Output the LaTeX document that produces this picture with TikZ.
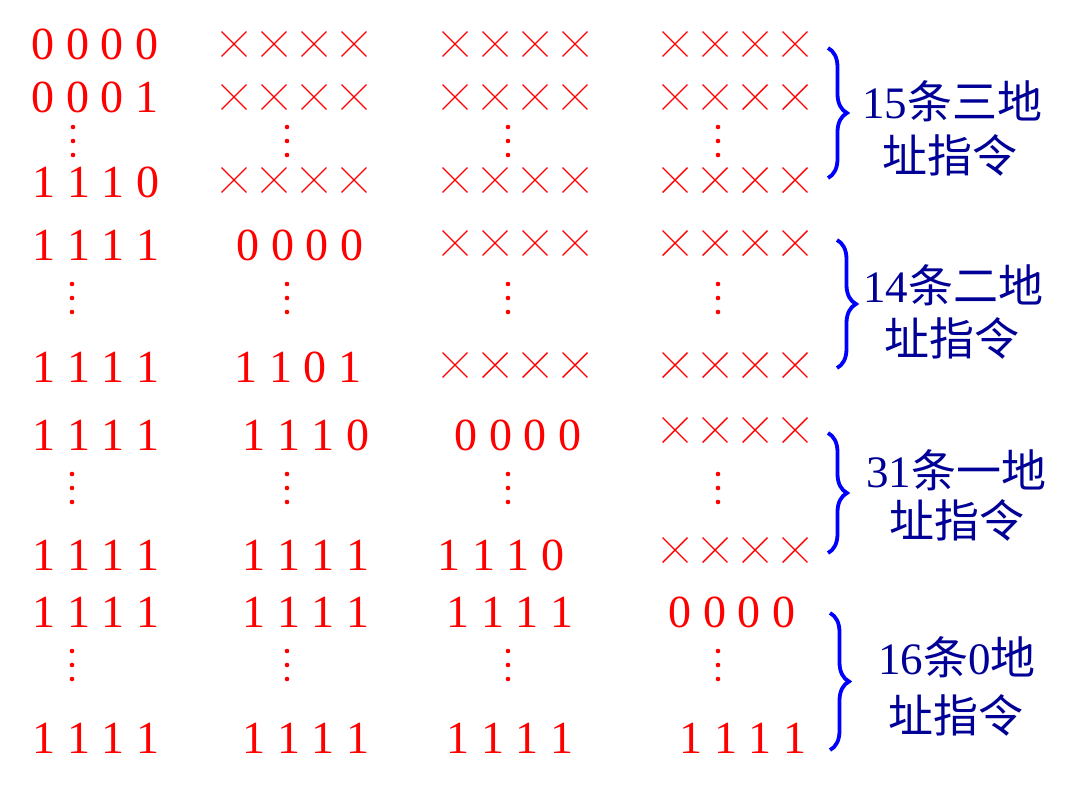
\documentclass[tikz,border=0pt]{standalone}
\usepackage{fontspec}
\setmainfont{Liberation Serif}
\newfontfamily\cjk{Noto Sans CJK SC}
\usetikzlibrary{decorations.pathreplacing,shapes.misc}
\definecolor{lblue}{RGB}{0,0,150}
\newcommand\crsrow[3]{\foreach \i in {0,1,2,3} {\node[crs] (#1\i) at (#2-60+40*\i,#3) {};}}
\newcommand\vdts[2]{\fill[red] (#1,#2-14) circle (2.3) (#1,#2) circle (2.3) (#1,#2+14) circle (2.3);}
\begin{document}
\begin{tikzpicture}[x=1pt,y=-1pt,
  dig/.style={text=red,inner sep=0pt,anchor=center,font=\fontsize{46}{50}\selectfont},
  crs/.style={draw=red,cross out,line width=1.4pt,minimum size=23.5pt,inner sep=0pt},
  lbl/.style={text=lblue,inner sep=0pt,anchor=center,font=\fontsize{45}{50}\selectfont},
  brc/.style={draw=blue,line width=3.8pt,decorate,decoration={brace,amplitude=19pt}}]
\useasboundingbox (0,0) rectangle (1080,793);
% Block 1
\node[dig] (a11) at (95,44) {0 0 0 0};
\node[dig] (a12) at (95,97) {0 0 0 1};
\node[dig] (a13) at (96,182) {1 1 1 0};
\crsrow{b11}{294}{44}
\crsrow{b12}{294}{97}
\crsrow{b13}{294}{180}
\crsrow{c11}{515}{44}
\crsrow{c12}{515}{97}
\crsrow{c13}{515}{180}
\crsrow{d11}{735}{44}
\crsrow{d12}{735}{97}
\crsrow{d13}{735}{180}
\vdts{73}{141}\vdts{287}{141}\vdts{508}{141}\vdts{718}{141}
% Block 2
\node[dig] (a21) at (96,245) {1 1 1 1};
\node[dig] (a22) at (96,367) {1 1 1 1};
\node[dig] (b21) at (300,245) {0 0 0 0};
\node[dig] (b22) at (298,367) {1 1 0 1};
\crsrow{c21}{515}{243}
\crsrow{c22}{515}{365}
\crsrow{d21}{735}{243}
\crsrow{d22}{735}{365}
\vdts{72}{298}\vdts{287}{298}\vdts{508}{298}\vdts{718}{298}
% Block 3
\node[dig] (a31) at (96,435) {1 1 1 1};
\node[dig] (a32) at (96,555) {1 1 1 1};
\node[dig] (b31) at (306,435) {1 1 1 0};
\node[dig] (b32) at (306,555) {1 1 1 1};
\node[dig] (c31) at (518,435) {0 0 0 0};
\node[dig] (c32) at (501,555) {1 1 1 0};
\crsrow{d31}{735}{430}
\crsrow{d32}{735}{550}
\vdts{72}{488}\vdts{287}{488}\vdts{508}{488}\vdts{718}{488}
% Block 4
\node[dig] (a41) at (96,612) {1 1 1 1};
\node[dig] (a42) at (96,738) {1 1 1 1};
\node[dig] (b41) at (306,612) {1 1 1 1};
\node[dig] (b42) at (306,738) {1 1 1 1};
\node[dig] (c41) at (510,612) {1 1 1 1};
\node[dig] (c42) at (510,738) {1 1 1 1};
\node[dig] (d41) at (732,612) {0 0 0 0};
\node[dig] (d42) at (743,738) {1 1 1 1};
\vdts{72}{665}\vdts{287}{665}\vdts{508}{665}\vdts{718}{665}
% Braces
\coordinate (t1) at (828,48); \coordinate (u1) at (828,178);
\coordinate (t2) at (837,240); \coordinate (u2) at (837,368);
\coordinate (t3) at (828,433); \coordinate (u3) at (828,553);
\coordinate (t4) at (830,613); \coordinate (u4) at (830,750);
\draw[brc] (t1) -- (u1);
\draw[brc] (t2) -- (u2);
\draw[brc] (t3) -- (u3);
\draw[brc] (t4) -- (u4);
% Labels
\node[lbl] (l1a) at (952,101) {15{\cjk 条三地}};
\node[lbl] (l1b) at (950,155) {\cjk 址指令};
\node[lbl] (l2a) at (953,285) {14{\cjk 条二地}};
\node[lbl] (l2b) at (952,338) {\cjk 址指令};
\node[lbl] (l3a) at (956,470) {31{\cjk 条一地}};
\node[lbl] (l3b) at (957,520) {\cjk 址指令};
\node[lbl] (l4a) at (957,657) {16{\cjk 条}0{\cjk 地}};
\node[lbl] (l4b) at (956,715) {\cjk 址指令};
\end{tikzpicture}
\end{document}
